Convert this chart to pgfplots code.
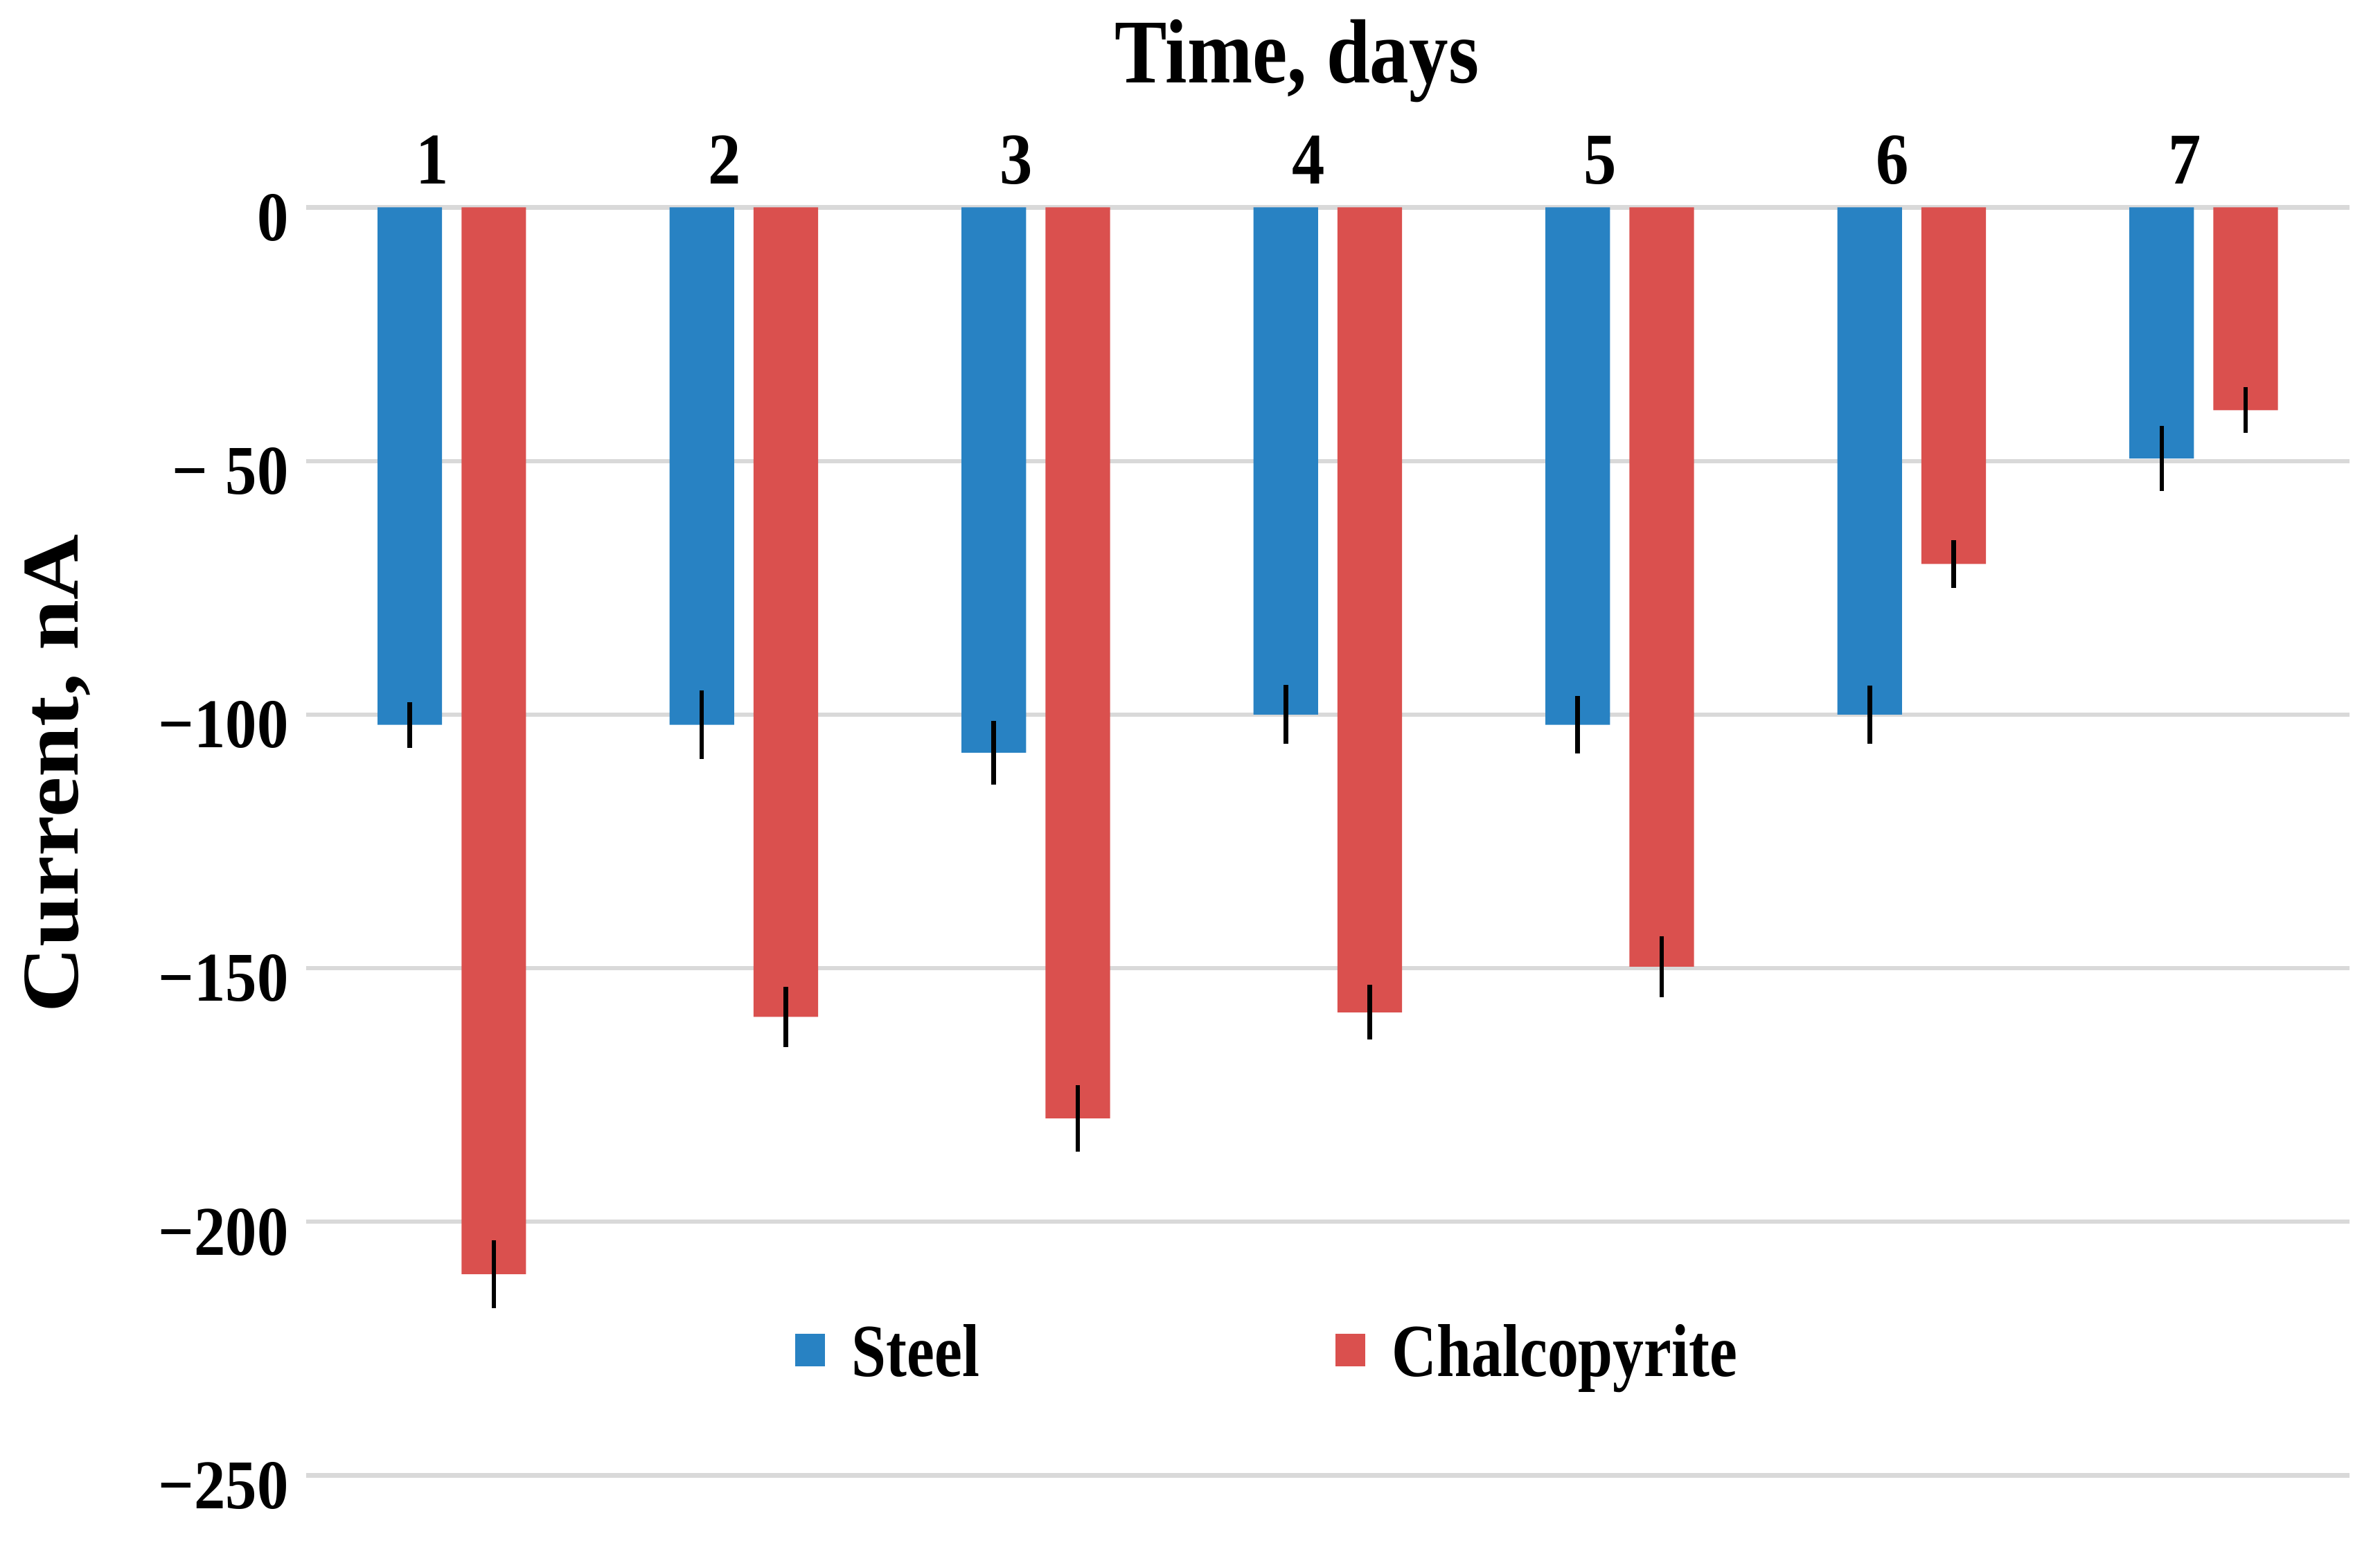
\documentclass[border=0pt]{standalone}
\usepackage{fontspec}
\setmainfont{Liberation Serif}
\newfontfamily\titlef[FakeStretch=0.86]{Liberation Serif}
\newfontfamily\tickf[FakeStretch=0.9]{Liberation Serif}
\newfontfamily\legf[FakeStretch=0.83]{Liberation Serif}
\newfontfamily\ylabf[FakeStretch=1.13]{Liberation Serif}
\usepackage{pgfplots}
\pgfplotsset{compat=1.18}
\definecolor{steelblue}{RGB}{40,130,195}
\definecolor{chalred}{RGB}{218,80,78}
\definecolor{gridgray}{RGB}{217,217,217}
\begin{document}
\begin{tikzpicture}
\begin{axis}[
  scale only axis, width=403.95pt, height=250.68pt,
  xmin=0.5, xmax=7.5, ymin=-250, ymax=0,
  clip=false,
  ybar=3.85pt, bar width=12.75pt,
  axis line style={draw=none},
  major tick length=0pt,
  xtick={1,2,3,4,5,6,7}, xticklabels={1,2,3,4,5,6,7},
  xticklabel pos=upper,
  xticklabel style={font=\tickf\bfseries\fontsize{14.4}{16}\selectfont, anchor=base, inner sep=0pt, yshift=4.7pt, xshift=-3.8pt},
  ytick={-250,-200,-150,-100,-50,0},
  yticklabels={−250,−200,−150,−100,−\hspace{3.5pt}50,0},
  yticklabel style={font=\tickf\bfseries\fontsize{13.8}{16}\selectfont, anchor=east, inner sep=0pt, xshift=-3.2pt, yshift=-2pt},
  ymajorgrids, grid style={gridgray, line width=0.85pt},
  title={Time, days},
  every axis title shift=0pt,
  title style={font=\titlef\bfseries\fontsize{18}{20}\selectfont, at={(axis description cs:0.4849,1.0981)}, anchor=base, inner sep=0pt},
  ylabel={Current, nA},
  ylabel style={font=\ylabf\bfseries\fontsize{15.9}{18}\selectfont, at={(axis description cs:-0.1114,0.5535)}, anchor=base, inner sep=0pt},
  legend columns=2,
  legend cell align=left,
  legend style={at={(axis description cs:0.2395,0.0988)}, anchor=west, draw=none, fill=none, inner sep=0pt, outer sep=0pt,
    font=\legf\bfseries\fontsize{14.8}{17}\selectfont, nodes={inner sep=0pt, text depth=0pt},
    /tikz/every odd column/.append style={column sep=5.3pt},
    /tikz/every even column/.append style={column sep=70.4pt}},
]
\addplot[fill=steelblue, draw=none,
  legend image code/.code={\fill[steelblue] (0pt,-3.2pt) rectangle (5.85pt,3.2pt);},
  error bars/.cd, y dir=both, y explicit, error mark=none, error bar style={line width=0.9pt, black}]
  coordinates {
  (1,-102) +- (0,4.5)
  (2,-102) +- (0,6.7)
  (3,-107.5) +- (0,6.3)
  (4,-100) +- (0,5.8)
  (5,-102) +- (0,5.7)
  (6,-100) +- (0,5.7)
  (7,-49.5) +- (0,6.4)
  };
\addlegendentry{Steel}
\addplot[fill=chalred, draw=none,
  legend image code/.code={\fill[chalred] (0pt,-3.2pt) rectangle (5.85pt,3.2pt);},
  error bars/.cd, y dir=both, y explicit, error mark=none, error bar style={line width=0.9pt, black}]
  coordinates {
  (1,-210.3) +- (0,6.7)
  (2,-159.6) +- (0,6.0)
  (3,-179.6) +- (0,6.5)
  (4,-158.7) +- (0,5.4)
  (5,-149.7) +- (0,6.0)
  (6,-70.3) +- (0,4.7)
  (7,-40) +- (0,4.5)
  };
\addlegendentry{Chalcopyrite}
\path (rel axis cs:-0.14965,-0.06183) rectangle (rel axis cs:1.01485,1.16356);
\end{axis}
\end{tikzpicture}
\end{document}
